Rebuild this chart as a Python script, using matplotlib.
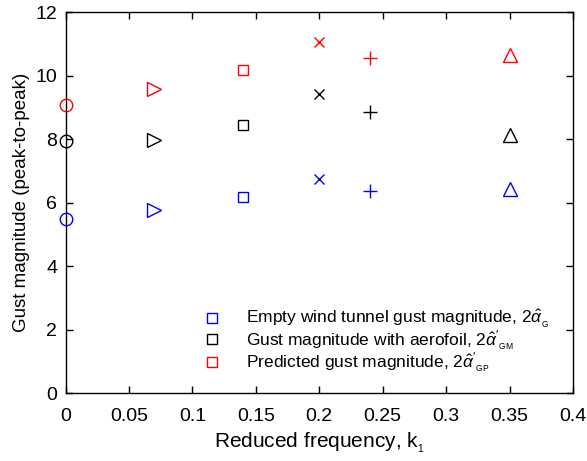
import matplotlib
matplotlib.use("Agg")
import matplotlib.pyplot as plt
from matplotlib.lines import Line2D

plt.rcParams['font.family'] = ['Liberation Sans', 'DejaVu Sans']
plt.rcParams['mathtext.fontset'] = 'custom'
plt.rcParams['mathtext.rm'] = 'Liberation Sans'
plt.rcParams['mathtext.it'] = 'Liberation Sans:italic'

k = [0, 0.07, 0.14, 0.2, 0.24, 0.35]
markers = ['o', '>', 's', 'x', '+', '^']
sizes = [9, 9.5, 7, 7, 10, 9.5]
empty_tunnel = [5.47, 5.78, 6.18, 6.75, 6.36, 6.44]
with_aerofoil = [7.95, 7.97, 8.45, 9.41, 8.86, 8.13]
predicted = [9.08, 9.58, 10.18, 11.05, 10.55, 10.66]

series = [(empty_tunnel, 'blue'), (with_aerofoil, 'black'), (predicted, 'red')]
labels = [r"Empty wind tunnel gust magnitude, 2$\hat{\alpha}_{_{\rm G}}$",
          r"Gust magnitude with aerofoil, 2$\hat{\alpha}'_{_{\rm GM}}$",
          r"Predicted gust magnitude, 2$\hat{\alpha}'_{_{\rm GP}}$"]

fig = plt.figure(figsize=(5.87, 4.61), dpi=100)
ax = fig.add_axes([65.5/587, 1-393/461, (573-65.5)/587, (393-12.3)/461])

for vals, c in series:
    for x, y, m, s in zip(k, vals, markers, sizes):
        ax.plot([x], [y], linestyle='none', marker=m, markersize=s,
                markerfacecolor='none', markeredgecolor=c, markeredgewidth=1.0,
                clip_on=False, zorder=3)

ax.set_xlim(0, 0.4)
ax.set_ylim(0, 12)
ax.set_xticks([0, 0.05, 0.1, 0.15, 0.2, 0.25, 0.3, 0.35, 0.4])
ax.set_xticklabels(['0', '0.05', '0.1', '0.15', '0.2', '0.25', '0.3', '0.35', '0.4'])
ax.set_yticks([0, 2, 4, 6, 8, 10, 12])
ax.tick_params(direction='in', top=True, right=True, length=5, width=1,
               labelsize=14)
ax.tick_params(axis='x', pad=11)
ax.tick_params(axis='y', pad=6)
for sp in ax.spines.values():
    sp.set_linewidth(1.0)
ax.set_xlabel(r"Reduced frequency, k$_{_{1}}$", fontsize=15, labelpad=4)
ax.set_ylabel("Gust magnitude (peak-to-peak)", fontsize=13.5, labelpad=4)

handles = [Line2D([], [], linestyle='none', marker='s', markersize=7,
                  markerfacecolor='none', markeredgecolor=c, markeredgewidth=1.0)
           for _, c in series]
fig.legend(handles, labels, loc='upper left',
           bbox_to_anchor=(203.3/587, 1-308/461), bbox_transform=fig.transFigure,
           frameon=False, fontsize=12.5, handlelength=1.0, handletextpad=1.44,
           labelspacing=-0.12, borderpad=0, borderaxespad=0)

fig.savefig("out.png", dpi=100)
